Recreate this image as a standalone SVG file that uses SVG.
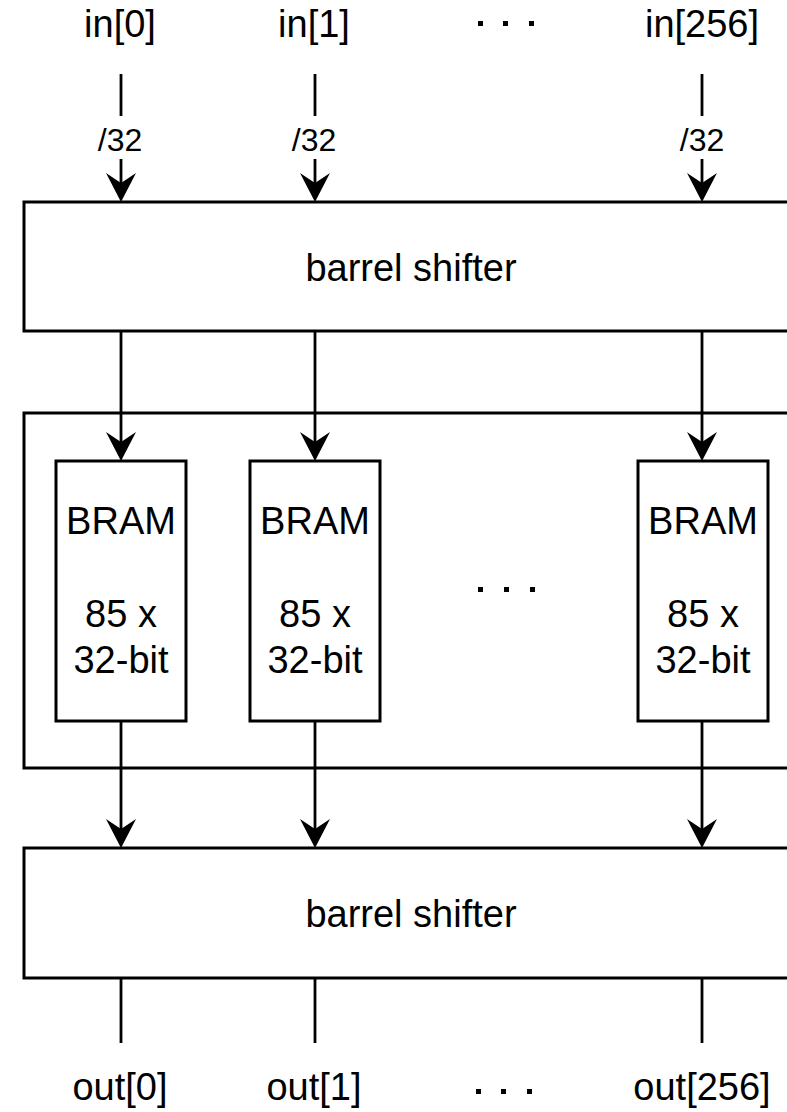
<svg xmlns="http://www.w3.org/2000/svg" width="787" height="1112" viewBox="0 0 787 1112">
  <style>
    .box { fill: #ffffff; stroke: #000000; stroke-width: 3; }
    .wire { fill: none; stroke: #000000; stroke-width: 2.8; }
    .lbl { font-family: "Liberation Sans", Arial, sans-serif; font-size: 38px; fill: #000000; text-anchor: middle; }
    .bus { font-family: "Liberation Sans", Arial, sans-serif; font-size: 32px; fill: #000000; text-anchor: middle; }
    .dot { fill: #000000; }
  </style>
  <defs>
    <!-- classic notched arrowhead; line ends at the notch -->
    <marker id="arrow" markerUnits="userSpaceOnUse" viewBox="-31 -16 33 32" markerWidth="33" markerHeight="32" refX="-19" refY="0" orient="auto">
      <path d="M0,0 L-29,-15 L-19,0 L-29,15 Z" fill="#000000"/>
    </marker>
  </defs>

  <rect width="787" height="1112" fill="#ffffff"/>

  <!-- input labels -->
  <g id="inputs">
    <text class="lbl" x="120" y="37">in[0]</text>
    <text class="lbl" x="314" y="37">in[1]</text>
    <text class="lbl" x="702" y="37">in[256]</text>
    <rect class="dot" x="478" y="21" width="5" height="5"/>
    <rect class="dot" x="503" y="21" width="5" height="5"/>
    <rect class="dot" x="529" y="21" width="5" height="5"/>
  </g>

  <!-- top barrel shifter -->
  <g id="shifter-in">
    <rect class="box" x="24" y="202" width="774" height="129"/>
    <text class="lbl" x="411" y="281">barrel shifter</text>
  </g>

  <!-- BRAM bank container -->
  <g id="bram-bank">
    <rect class="box" x="24" y="413" width="774" height="355"/>
    <rect class="dot" x="478" y="587" width="5" height="5"/>
    <rect class="dot" x="504" y="587" width="5" height="5"/>
    <rect class="dot" x="530" y="587" width="5" height="5"/>
  </g>

  <g id="bram-0">
    <rect class="box" x="56" y="461" width="130" height="260"/>
    <text class="lbl" x="121" y="534">BRAM</text>
    <text class="lbl" x="121" y="627">85 x</text>
    <text class="lbl" x="121" y="673">32-bit</text>
  </g>
  <g id="bram-1">
    <rect class="box" x="250" y="461" width="130" height="260"/>
    <text class="lbl" x="315" y="534">BRAM</text>
    <text class="lbl" x="315" y="627">85 x</text>
    <text class="lbl" x="315" y="673">32-bit</text>
  </g>
  <g id="bram-256">
    <rect class="box" x="638" y="461" width="130" height="260"/>
    <text class="lbl" x="703" y="534">BRAM</text>
    <text class="lbl" x="703" y="627">85 x</text>
    <text class="lbl" x="703" y="673">32-bit</text>
  </g>

  <!-- bottom barrel shifter -->
  <g id="shifter-out">
    <rect class="box" x="24" y="848" width="774" height="130"/>
    <text class="lbl" x="411" y="927">barrel shifter</text>
  </g>

  <!-- output labels -->
  <g id="outputs">
    <text class="lbl" x="120" y="1100">out[0]</text>
    <text class="lbl" x="314" y="1100">out[1]</text>
    <text class="lbl" x="702" y="1100">out[256]</text>
    <rect class="dot" x="476" y="1089" width="5" height="5"/>
    <rect class="dot" x="501" y="1089" width="5" height="5"/>
    <rect class="dot" x="527" y="1089" width="5" height="5"/>
  </g>

  <!-- connectors -->
  <g id="connectors">
    <!-- inputs: 32-bit buses into the first shifter -->
    <line class="wire" x1="121" y1="74" x2="121" y2="116"/>
    <line class="wire" x1="121" y1="159" x2="121" y2="183" marker-end="url(#arrow)"/>
    <text class="bus" x="120" y="151">/32</text>
    <line class="wire" x1="315" y1="74" x2="315" y2="116"/>
    <line class="wire" x1="315" y1="159" x2="315" y2="183" marker-end="url(#arrow)"/>
    <text class="bus" x="314" y="151">/32</text>
    <line class="wire" x1="702" y1="74" x2="702" y2="116"/>
    <line class="wire" x1="702" y1="159" x2="702" y2="183" marker-end="url(#arrow)"/>
    <text class="bus" x="702" y="151">/32</text>

    <!-- shifter to BRAMs -->
    <line class="wire" x1="121" y1="331" x2="121" y2="442" marker-end="url(#arrow)"/>
    <line class="wire" x1="315" y1="331" x2="315" y2="442" marker-end="url(#arrow)"/>
    <line class="wire" x1="702" y1="331" x2="702" y2="442" marker-end="url(#arrow)"/>

    <!-- BRAMs to shifter -->
    <line class="wire" x1="121" y1="721" x2="121" y2="829" marker-end="url(#arrow)"/>
    <line class="wire" x1="315" y1="721" x2="315" y2="829" marker-end="url(#arrow)"/>
    <line class="wire" x1="702" y1="721" x2="702" y2="829" marker-end="url(#arrow)"/>

    <!-- outputs -->
    <line class="wire" x1="121" y1="978" x2="121" y2="1043"/>
    <line class="wire" x1="315" y1="978" x2="315" y2="1043"/>
    <line class="wire" x1="702" y1="978" x2="702" y2="1043"/>
  </g>
</svg>
